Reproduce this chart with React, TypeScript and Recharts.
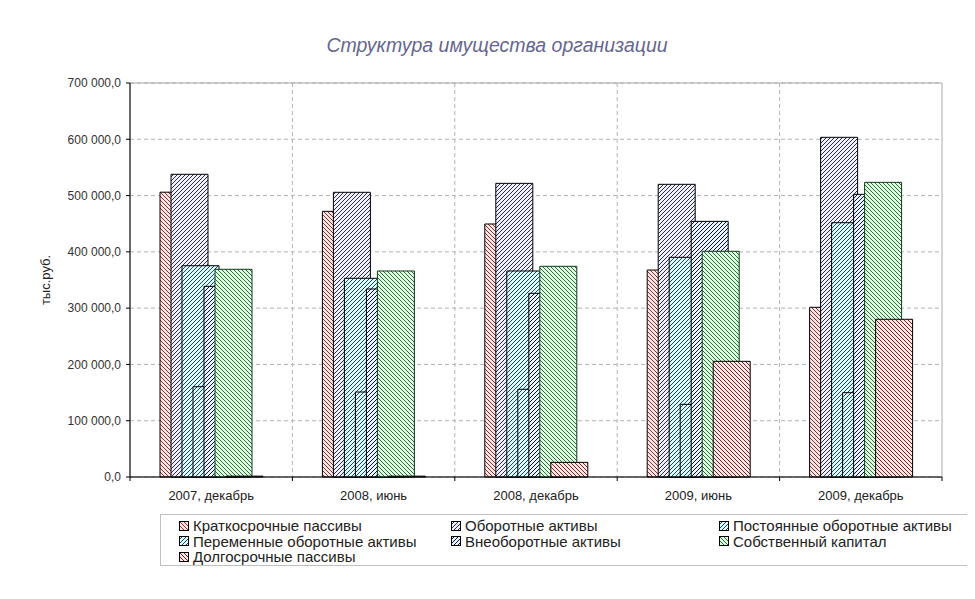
import { BarChart, Bar, XAxis, YAxis, CartesianGrid, ReferenceArea } from 'recharts';

const periods = ['2007, декабрь', '2008, июнь', '2008, декабрь', '2009, июнь', '2009, декабрь'];
const shortTermLiabilities = [506000, 472000, 449500, 367700, 301500];
const currentAssets = [537800, 505800, 521700, 520000, 603500];
const permanentCurrentAssets = [375400, 353000, 366000, 390300, 451800];
const variableCurrentAssets = [160400, 151000, 155800, 129100, 149800];
const nonCurrentAssets = [338700, 334000, 326300, 454200, 502200];
const equity = [369000, 366000, 374300, 401000, 523500];
const longTermLiabilities = [1500, 1500, 26000, 205500, 280200];
const yTicks = [0, 100000, 200000, 300000, 400000, 500000, 600000, 700000];

const FONT = "'Liberation Sans', Arial, sans-serif";

// hatch styles per series: background, line colour, direction ("/" or "\")
const series = [
    { key: 'st', name: 'Краткосрочные пассивы', values: shortTermLiabilities, bg: '#ffe6e6', line: '#8b3030', dir: 'back', stroke: '#000' },
    { key: 'ca', name: 'Оборотные активы', values: currentAssets, bg: '#f0f0fa', line: '#2b2b50', dir: 'fwd', stroke: '#000' },
    { key: 'pca', name: 'Постоянные оборотные активы', values: permanentCurrentAssets, bg: '#dafcff', line: '#23465e', dir: 'fwd', stroke: '#000' },
    { key: 'vca', name: 'Переменные оборотные активы', values: variableCurrentAssets, bg: '#dafcff', line: '#23465e', dir: 'fwd', stroke: '#000' },
    { key: 'nca', name: 'Внеоборотные активы', values: nonCurrentAssets, bg: '#e8f4ff', line: '#101030', dir: 'fwd', stroke: '#000' },
    { key: 'eq', name: 'Собственный капитал', values: equity, bg: '#e0ffe0', line: '#2a6b3f', dir: 'back', stroke: '#0f3a1c' },
    { key: 'lt', name: 'Долгосрочные пассивы', values: longTermLiabilities, bg: '#ffe6e6', line: '#7a2525', dir: 'back', stroke: '#000' },
];

const rows = periods.map((p, i) => {
    const row: any = { period: p };
    series.forEach((s) => { row[s.key] = s.values[i]; });
    return row;
});

const fmt = (v: number) => String(v).replace(/\B(?=(\d{3})+(?!\d))/g, ' ') + ',0';

const Patterns = () => (
    <svg width={0} height={0} style={{ position: 'absolute' }}>
        <defs>
            {series.map((s) => (
                <pattern key={s.key} id={'hatch-' + s.key} patternUnits="userSpaceOnUse" width={4} height={4}>
                    <rect width={4} height={4} fill={s.bg} />
                    <path
                        d={s.dir === 'fwd'
                            ? 'M0,4 L4,0 M-1,1 L1,-1 M3,5 L5,3'
                            : 'M0,0 L4,4 M-1,3 L1,5 M3,-1 L5,1'}
                        stroke={s.line}
                        strokeWidth={1}
                    />
                </pattern>
            ))}
        </defs>
    </svg>
);

const PeriodTick = (props: any) => {
    const { x, y, payload, index, visibleTicksCount, width } = props;
    const half = (width || 812) / (visibleTicksCount || 5) / 2;
    return (
        <g>
            <line x1={x - half} x2={x - half} y1={y} y2={y + 4} stroke="#000" />
            {index === visibleTicksCount - 1 && <line x1={x + half} x2={x + half} y1={y} y2={y + 4} stroke="#000" />}
            <text x={x} y={y + 23} textAnchor="middle" fontSize={13} fill="#222" fontFamily={FONT}>{payload.value}</text>
        </g>
    );
};

const legendCols = [18, 290, 558];

export default function App() {
    return (
        <div style={{ position: 'relative', width: 960, height: 583 }}>
            <Patterns />
            <div style={{
                position: 'absolute', left: 489, top: 26, transform: 'translateX(-50%)', whiteSpace: 'nowrap',
                fontFamily: FONT, fontStyle: 'italic', fontSize: 19.5, color: '#666692', lineHeight: '22px'
            }}>
                Структура имущества организации
            </div>
            <BarChart
                width={960}
                height={583}
                data={rows}
                barSize={37}
                barGap={-26}
                margin={{ top: 75, right: 26, left: 32, bottom: 84 }}
            >
                <CartesianGrid
                    stroke="#b4b4b4"
                    strokeDasharray="4 3"
                    verticalCoordinatesGenerator={({ offset }: any) =>
                        [1, 2, 3, 4].map((i) => offset.left + (i * offset.width) / periods.length)}
                />
                <ReferenceArea y1={0} y2={700000} fill="none" stroke="#a8a8a8" strokeWidth={1} />
                <XAxis
                    dataKey="period"
                    height={30}
                    tickLine={false}
                    tickSize={0}
                    tickMargin={0}
                    axisLine={{ stroke: '#000' }}
                    tick={<PeriodTick />}
                    interval={0}
                />
                <YAxis
                    width={90}
                    domain={[0, 700000]}
                    ticks={yTicks}
                    interval={0}
                    tickFormatter={fmt}
                    tickSize={4}
                    tickMargin={5}
                    axisLine={{ stroke: '#000' }}
                    tickLine={{ stroke: '#000' }}
                    tick={{ fontSize: 12, fill: '#333', fontFamily: FONT }}
                    label={{
                        value: 'тыс.руб.', angle: -90, position: 'insideLeft', offset: 5,
                        style: { textAnchor: 'middle', fontSize: 13, fill: '#222', fontFamily: FONT }
                    }}
                />
                {series.map((s) => (
                    <Bar
                        key={s.key}
                        dataKey={s.key}
                        name={s.name}
                        fill={`url(#hatch-${s.key})`}
                        stroke={s.stroke}
                        strokeWidth={1}
                        isAnimationActive={false}
                    />
                ))}
            </BarChart>
            <div style={{
                position: 'absolute', left: 152, top: 506, width: 811, height: 50,
                border: '1px solid #c0c0c0', fontFamily: FONT, fontSize: 15, color: '#222'
            }}>
                {series.map((s, i) => (
                    <div key={s.key} style={{
                        position: 'absolute', left: legendCols[i % 3], top: 3 + Math.floor(i / 3) * 15.5,
                        display: 'flex', alignItems: 'center', whiteSpace: 'nowrap', lineHeight: '15px'
                    }}>
                        <svg width={10} height={10} style={{ marginRight: 4 }}>
                            <rect x={0.5} y={0.5} width={9} height={9} fill={`url(#hatch-${s.key})`} stroke="#000" />
                        </svg>
                        {s.name}
                    </div>
                ))}
            </div>
        </div>
    );
}
